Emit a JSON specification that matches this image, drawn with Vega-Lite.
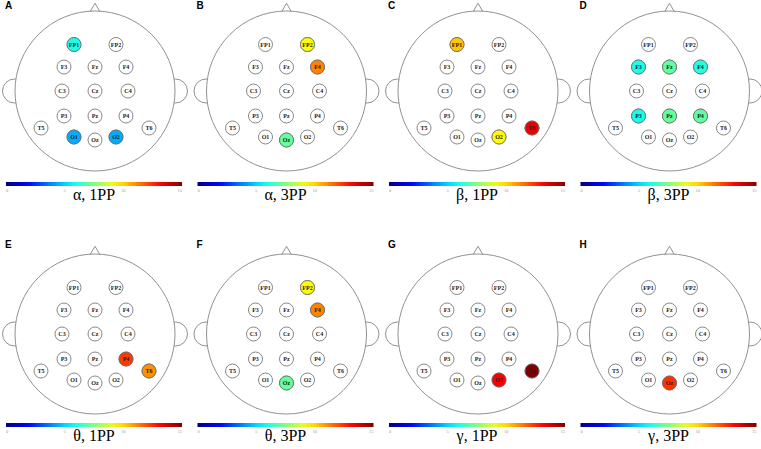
{
"$schema":"https://vega.github.io/schema/vega-lite/v6.json",
"padding":0,
"background":"white",
"bounds":"flush",
"columns":4,
"spacing":{"row":61,"column":6.5},
"datasets":{
"pos":[
{"el":"FP1","x":-21,"y":46.5},{"el":"FP2","x":21,"y":46.5},
{"el":"F3","x":-31,"y":24},{"el":"Fz","x":0,"y":24},{"el":"F4","x":31,"y":24},
{"el":"C3","x":-33,"y":0},{"el":"Cz","x":0,"y":0},{"el":"C4","x":33,"y":0},
{"el":"P3","x":-31,"y":-25},{"el":"Pz","x":0,"y":-25},{"el":"P4","x":31,"y":-25},
{"el":"T5","x":-54,"y":-37},{"el":"T6","x":54,"y":-37},
{"el":"O1","x":-21,"y":-46},{"el":"Oz","x":0,"y":-49},{"el":"O2","x":21,"y":-46}],
"outline":[{"part":"nose","x":0,"y":83},{"part":"ear","x":-80.5,"y":0},{"part":"ear","x":80.5,"y":0},{"part":"head","x":0,"y":0}],
"vals":[
{"panel":"A","el":"FP1","v":6.0},{"panel":"A","el":"O1","v":4.4},{"panel":"A","el":"O2","v":4.4},
{"panel":"B","el":"FP2","v":9.3},{"panel":"B","el":"F4","v":11.2},{"panel":"B","el":"Oz","v":7.1},
{"panel":"C","el":"FP1","v":10.2},{"panel":"C","el":"O2","v":9.4},{"panel":"C","el":"T6","v":13.4},
{"panel":"D","el":"F3","v":6.0},{"panel":"D","el":"Fz","v":7.0},{"panel":"D","el":"F4","v":6.1},{"panel":"D","el":"P3","v":5.9},{"panel":"D","el":"Pz","v":7.1},{"panel":"D","el":"P4","v":7.0},
{"panel":"E","el":"P4","v":12.3},{"panel":"E","el":"T6","v":11.0},
{"panel":"F","el":"FP2","v":9.3},{"panel":"F","el":"F4","v":11.2},{"panel":"F","el":"Oz","v":7.1},
{"panel":"G","el":"O2","v":13.2},{"panel":"G","el":"T6","v":15.0},
{"panel":"H","el":"Oz","v":12.4}]
},
"config":{
"view":{"stroke":null},
"title":{"anchor":"start","frame":"group","fontSize":10,"font":"Liberation Sans","fontWeight":"bold","color":"black"},
"legend":{"orient":"none","direction":"horizontal","gradientLength":176,"gradientThickness":4,"gradientStrokeWidth":0,"titleOrient":"bottom","titleAnchor":"middle","titleFont":"Liberation Serif","titleFontSize":16,"titleFontWeight":"normal","titleColor":"black","titlePadding":-6,"labelFont":"Liberation Serif","labelFontSize":4.5,"labelColor":"#999999","labelOffset":1,"padding":0}
},
"resolve":{"scale":{"fill":"independent","x":"independent","y":"independent"},"legend":{"fill":"independent"}},
"concat":[
{"title":{"text":"A","offset":-9.5,"dx":3},"width":185,"height":182,
"encoding":{"x":{"field":"x","type":"quantitative","scale":{"domain":[-93,92],"nice":false,"zero":false},"axis":null},"y":{"field":"y","type":"quantitative","scale":{"domain":[-92,90],"nice":false,"zero":false},"axis":null}},
"layer":[
{"data":{"name":"outline"},"transform":[{"filter":"datum.part==='nose'"}],"mark":{"type":"point","shape":"triangle-up","size":121,"filled":true,"fill":"white","stroke":"#858585","strokeWidth":0.9,"opacity":1}},
{"data":{"name":"outline"},"transform":[{"filter":"datum.part==='ear'"}],"mark":{"type":"point","shape":"circle","size":576,"filled":true,"fill":"white","stroke":"#858585","strokeWidth":0.9,"opacity":1}},
{"data":{"name":"outline"},"transform":[{"filter":"datum.part==='head'"}],"mark":{"type":"point","shape":"circle","size":25600,"filled":true,"fill":"white","stroke":"#858585","strokeWidth":0.9,"opacity":1}},
{"data":{"name":"pos"},"mark":{"type":"point","shape":"circle","size":196,"filled":true,"fill":"white","stroke":"#6a6a6a","strokeWidth":0.8,"opacity":1}},
{"data":{"name":"vals"},"transform":[{"filter":"datum.panel==='A'"},{"lookup":"el","from":{"data":{"name":"pos"},"key":"el","fields":["x","y"]}}],"mark":{"type":"point","shape":"circle","size":196,"filled":true,"stroke":"#6a6a6a","strokeWidth":0.8,"opacity":1},
"encoding":{"fill":{"field":"v","type":"quantitative","scale":{"domain":[0,1.875,5.625,9.375,13.125,15],"range":["#000080","#0000ff","#00ffff","#ffff00","#ff0000","#800000"],"interpolate":"rgb"},"legend":{"title":"α, 1PP","legendX":4,"legendY":181,"values":[0,5,10,15]}}}},
{"data":{"name":"pos"},"mark":{"type":"text","font":"Liberation Serif","fontSize":6,"fontWeight":"bold","color":"#222222"},"encoding":{"text":{"field":"el"}}}
]},
{"title":{"text":"B","offset":-9.5,"dx":3},"width":185,"height":182,
"encoding":{"x":{"field":"x","type":"quantitative","scale":{"domain":[-93,92],"nice":false,"zero":false},"axis":null},"y":{"field":"y","type":"quantitative","scale":{"domain":[-92,90],"nice":false,"zero":false},"axis":null}},
"layer":[
{"data":{"name":"outline"},"transform":[{"filter":"datum.part==='nose'"}],"mark":{"type":"point","shape":"triangle-up","size":121,"filled":true,"fill":"white","stroke":"#858585","strokeWidth":0.9,"opacity":1}},
{"data":{"name":"outline"},"transform":[{"filter":"datum.part==='ear'"}],"mark":{"type":"point","shape":"circle","size":576,"filled":true,"fill":"white","stroke":"#858585","strokeWidth":0.9,"opacity":1}},
{"data":{"name":"outline"},"transform":[{"filter":"datum.part==='head'"}],"mark":{"type":"point","shape":"circle","size":25600,"filled":true,"fill":"white","stroke":"#858585","strokeWidth":0.9,"opacity":1}},
{"data":{"name":"pos"},"mark":{"type":"point","shape":"circle","size":196,"filled":true,"fill":"white","stroke":"#6a6a6a","strokeWidth":0.8,"opacity":1}},
{"data":{"name":"vals"},"transform":[{"filter":"datum.panel==='B'"},{"lookup":"el","from":{"data":{"name":"pos"},"key":"el","fields":["x","y"]}}],"mark":{"type":"point","shape":"circle","size":196,"filled":true,"stroke":"#6a6a6a","strokeWidth":0.8,"opacity":1},
"encoding":{"fill":{"field":"v","type":"quantitative","scale":{"domain":[0,1.875,5.625,9.375,13.125,15],"range":["#000080","#0000ff","#00ffff","#ffff00","#ff0000","#800000"],"interpolate":"rgb"},"legend":{"title":"α, 3PP","legendX":4,"legendY":181,"values":[0,5,10,15]}}}},
{"data":{"name":"pos"},"mark":{"type":"text","font":"Liberation Serif","fontSize":6,"fontWeight":"bold","color":"#222222"},"encoding":{"text":{"field":"el"}}}
]},
{"title":{"text":"C","offset":-9.5,"dx":3},"width":185,"height":182,
"encoding":{"x":{"field":"x","type":"quantitative","scale":{"domain":[-93,92],"nice":false,"zero":false},"axis":null},"y":{"field":"y","type":"quantitative","scale":{"domain":[-92,90],"nice":false,"zero":false},"axis":null}},
"layer":[
{"data":{"name":"outline"},"transform":[{"filter":"datum.part==='nose'"}],"mark":{"type":"point","shape":"triangle-up","size":121,"filled":true,"fill":"white","stroke":"#858585","strokeWidth":0.9,"opacity":1}},
{"data":{"name":"outline"},"transform":[{"filter":"datum.part==='ear'"}],"mark":{"type":"point","shape":"circle","size":576,"filled":true,"fill":"white","stroke":"#858585","strokeWidth":0.9,"opacity":1}},
{"data":{"name":"outline"},"transform":[{"filter":"datum.part==='head'"}],"mark":{"type":"point","shape":"circle","size":25600,"filled":true,"fill":"white","stroke":"#858585","strokeWidth":0.9,"opacity":1}},
{"data":{"name":"pos"},"mark":{"type":"point","shape":"circle","size":196,"filled":true,"fill":"white","stroke":"#6a6a6a","strokeWidth":0.8,"opacity":1}},
{"data":{"name":"vals"},"transform":[{"filter":"datum.panel==='C'"},{"lookup":"el","from":{"data":{"name":"pos"},"key":"el","fields":["x","y"]}}],"mark":{"type":"point","shape":"circle","size":196,"filled":true,"stroke":"#6a6a6a","strokeWidth":0.8,"opacity":1},
"encoding":{"fill":{"field":"v","type":"quantitative","scale":{"domain":[0,1.875,5.625,9.375,13.125,15],"range":["#000080","#0000ff","#00ffff","#ffff00","#ff0000","#800000"],"interpolate":"rgb"},"legend":{"title":"β, 1PP","legendX":4,"legendY":181,"values":[0,5,10,15]}}}},
{"data":{"name":"pos"},"mark":{"type":"text","font":"Liberation Serif","fontSize":6,"fontWeight":"bold","color":"#222222"},"encoding":{"text":{"field":"el"}}}
]},
{"title":{"text":"D","offset":-9.5,"dx":3},"width":185,"height":182,
"encoding":{"x":{"field":"x","type":"quantitative","scale":{"domain":[-93,92],"nice":false,"zero":false},"axis":null},"y":{"field":"y","type":"quantitative","scale":{"domain":[-92,90],"nice":false,"zero":false},"axis":null}},
"layer":[
{"data":{"name":"outline"},"transform":[{"filter":"datum.part==='nose'"}],"mark":{"type":"point","shape":"triangle-up","size":121,"filled":true,"fill":"white","stroke":"#858585","strokeWidth":0.9,"opacity":1}},
{"data":{"name":"outline"},"transform":[{"filter":"datum.part==='ear'"}],"mark":{"type":"point","shape":"circle","size":576,"filled":true,"fill":"white","stroke":"#858585","strokeWidth":0.9,"opacity":1}},
{"data":{"name":"outline"},"transform":[{"filter":"datum.part==='head'"}],"mark":{"type":"point","shape":"circle","size":25600,"filled":true,"fill":"white","stroke":"#858585","strokeWidth":0.9,"opacity":1}},
{"data":{"name":"pos"},"mark":{"type":"point","shape":"circle","size":196,"filled":true,"fill":"white","stroke":"#6a6a6a","strokeWidth":0.8,"opacity":1}},
{"data":{"name":"vals"},"transform":[{"filter":"datum.panel==='D'"},{"lookup":"el","from":{"data":{"name":"pos"},"key":"el","fields":["x","y"]}}],"mark":{"type":"point","shape":"circle","size":196,"filled":true,"stroke":"#6a6a6a","strokeWidth":0.8,"opacity":1},
"encoding":{"fill":{"field":"v","type":"quantitative","scale":{"domain":[0,1.875,5.625,9.375,13.125,15],"range":["#000080","#0000ff","#00ffff","#ffff00","#ff0000","#800000"],"interpolate":"rgb"},"legend":{"title":"β, 3PP","legendX":4,"legendY":181,"values":[0,5,10,15]}}}},
{"data":{"name":"pos"},"mark":{"type":"text","font":"Liberation Serif","fontSize":6,"fontWeight":"bold","color":"#222222"},"encoding":{"text":{"field":"el"}}}
]},
{"title":{"text":"E","offset":-5.5,"dx":3},"width":185,"height":182,
"encoding":{"x":{"field":"x","type":"quantitative","scale":{"domain":[-93,92],"nice":false,"zero":false},"axis":null},"y":{"field":"y","type":"quantitative","scale":{"domain":[-92,90],"nice":false,"zero":false},"axis":null}},
"layer":[
{"data":{"name":"outline"},"transform":[{"filter":"datum.part==='nose'"}],"mark":{"type":"point","shape":"triangle-up","size":121,"filled":true,"fill":"white","stroke":"#858585","strokeWidth":0.9,"opacity":1}},
{"data":{"name":"outline"},"transform":[{"filter":"datum.part==='ear'"}],"mark":{"type":"point","shape":"circle","size":576,"filled":true,"fill":"white","stroke":"#858585","strokeWidth":0.9,"opacity":1}},
{"data":{"name":"outline"},"transform":[{"filter":"datum.part==='head'"}],"mark":{"type":"point","shape":"circle","size":25600,"filled":true,"fill":"white","stroke":"#858585","strokeWidth":0.9,"opacity":1}},
{"data":{"name":"pos"},"mark":{"type":"point","shape":"circle","size":196,"filled":true,"fill":"white","stroke":"#6a6a6a","strokeWidth":0.8,"opacity":1}},
{"data":{"name":"vals"},"transform":[{"filter":"datum.panel==='E'"},{"lookup":"el","from":{"data":{"name":"pos"},"key":"el","fields":["x","y"]}}],"mark":{"type":"point","shape":"circle","size":196,"filled":true,"stroke":"#6a6a6a","strokeWidth":0.8,"opacity":1},
"encoding":{"fill":{"field":"v","type":"quantitative","scale":{"domain":[0,1.875,5.625,9.375,13.125,15],"range":["#000080","#0000ff","#00ffff","#ffff00","#ff0000","#800000"],"interpolate":"rgb"},"legend":{"title":"θ, 1PP","legendX":4,"legendY":179,"values":[0,5,10,15]}}}},
{"data":{"name":"pos"},"mark":{"type":"text","font":"Liberation Serif","fontSize":6,"fontWeight":"bold","color":"#222222"},"encoding":{"text":{"field":"el"}}}
]},
{"title":{"text":"F","offset":-5.5,"dx":3},"width":185,"height":182,
"encoding":{"x":{"field":"x","type":"quantitative","scale":{"domain":[-93,92],"nice":false,"zero":false},"axis":null},"y":{"field":"y","type":"quantitative","scale":{"domain":[-92,90],"nice":false,"zero":false},"axis":null}},
"layer":[
{"data":{"name":"outline"},"transform":[{"filter":"datum.part==='nose'"}],"mark":{"type":"point","shape":"triangle-up","size":121,"filled":true,"fill":"white","stroke":"#858585","strokeWidth":0.9,"opacity":1}},
{"data":{"name":"outline"},"transform":[{"filter":"datum.part==='ear'"}],"mark":{"type":"point","shape":"circle","size":576,"filled":true,"fill":"white","stroke":"#858585","strokeWidth":0.9,"opacity":1}},
{"data":{"name":"outline"},"transform":[{"filter":"datum.part==='head'"}],"mark":{"type":"point","shape":"circle","size":25600,"filled":true,"fill":"white","stroke":"#858585","strokeWidth":0.9,"opacity":1}},
{"data":{"name":"pos"},"mark":{"type":"point","shape":"circle","size":196,"filled":true,"fill":"white","stroke":"#6a6a6a","strokeWidth":0.8,"opacity":1}},
{"data":{"name":"vals"},"transform":[{"filter":"datum.panel==='F'"},{"lookup":"el","from":{"data":{"name":"pos"},"key":"el","fields":["x","y"]}}],"mark":{"type":"point","shape":"circle","size":196,"filled":true,"stroke":"#6a6a6a","strokeWidth":0.8,"opacity":1},
"encoding":{"fill":{"field":"v","type":"quantitative","scale":{"domain":[0,1.875,5.625,9.375,13.125,15],"range":["#000080","#0000ff","#00ffff","#ffff00","#ff0000","#800000"],"interpolate":"rgb"},"legend":{"title":"θ, 3PP","legendX":4,"legendY":179,"values":[0,5,10,15]}}}},
{"data":{"name":"pos"},"mark":{"type":"text","font":"Liberation Serif","fontSize":6,"fontWeight":"bold","color":"#222222"},"encoding":{"text":{"field":"el"}}}
]},
{"title":{"text":"G","offset":-5.5,"dx":3},"width":185,"height":182,
"encoding":{"x":{"field":"x","type":"quantitative","scale":{"domain":[-93,92],"nice":false,"zero":false},"axis":null},"y":{"field":"y","type":"quantitative","scale":{"domain":[-92,90],"nice":false,"zero":false},"axis":null}},
"layer":[
{"data":{"name":"outline"},"transform":[{"filter":"datum.part==='nose'"}],"mark":{"type":"point","shape":"triangle-up","size":121,"filled":true,"fill":"white","stroke":"#858585","strokeWidth":0.9,"opacity":1}},
{"data":{"name":"outline"},"transform":[{"filter":"datum.part==='ear'"}],"mark":{"type":"point","shape":"circle","size":576,"filled":true,"fill":"white","stroke":"#858585","strokeWidth":0.9,"opacity":1}},
{"data":{"name":"outline"},"transform":[{"filter":"datum.part==='head'"}],"mark":{"type":"point","shape":"circle","size":25600,"filled":true,"fill":"white","stroke":"#858585","strokeWidth":0.9,"opacity":1}},
{"data":{"name":"pos"},"mark":{"type":"point","shape":"circle","size":196,"filled":true,"fill":"white","stroke":"#6a6a6a","strokeWidth":0.8,"opacity":1}},
{"data":{"name":"vals"},"transform":[{"filter":"datum.panel==='G'"},{"lookup":"el","from":{"data":{"name":"pos"},"key":"el","fields":["x","y"]}}],"mark":{"type":"point","shape":"circle","size":196,"filled":true,"stroke":"#6a6a6a","strokeWidth":0.8,"opacity":1},
"encoding":{"fill":{"field":"v","type":"quantitative","scale":{"domain":[0,1.875,5.625,9.375,13.125,15],"range":["#000080","#0000ff","#00ffff","#ffff00","#ff0000","#800000"],"interpolate":"rgb"},"legend":{"title":"γ, 1PP","legendX":4,"legendY":179,"values":[0,5,10,15]}}}},
{"data":{"name":"pos"},"mark":{"type":"text","font":"Liberation Serif","fontSize":6,"fontWeight":"bold","color":"#222222"},"encoding":{"text":{"field":"el"}}}
]},
{"title":{"text":"H","offset":-5.5,"dx":3},"width":185,"height":182,
"encoding":{"x":{"field":"x","type":"quantitative","scale":{"domain":[-93,92],"nice":false,"zero":false},"axis":null},"y":{"field":"y","type":"quantitative","scale":{"domain":[-92,90],"nice":false,"zero":false},"axis":null}},
"layer":[
{"data":{"name":"outline"},"transform":[{"filter":"datum.part==='nose'"}],"mark":{"type":"point","shape":"triangle-up","size":121,"filled":true,"fill":"white","stroke":"#858585","strokeWidth":0.9,"opacity":1}},
{"data":{"name":"outline"},"transform":[{"filter":"datum.part==='ear'"}],"mark":{"type":"point","shape":"circle","size":576,"filled":true,"fill":"white","stroke":"#858585","strokeWidth":0.9,"opacity":1}},
{"data":{"name":"outline"},"transform":[{"filter":"datum.part==='head'"}],"mark":{"type":"point","shape":"circle","size":25600,"filled":true,"fill":"white","stroke":"#858585","strokeWidth":0.9,"opacity":1}},
{"data":{"name":"pos"},"mark":{"type":"point","shape":"circle","size":196,"filled":true,"fill":"white","stroke":"#6a6a6a","strokeWidth":0.8,"opacity":1}},
{"data":{"name":"vals"},"transform":[{"filter":"datum.panel==='H'"},{"lookup":"el","from":{"data":{"name":"pos"},"key":"el","fields":["x","y"]}}],"mark":{"type":"point","shape":"circle","size":196,"filled":true,"stroke":"#6a6a6a","strokeWidth":0.8,"opacity":1},
"encoding":{"fill":{"field":"v","type":"quantitative","scale":{"domain":[0,1.875,5.625,9.375,13.125,15],"range":["#000080","#0000ff","#00ffff","#ffff00","#ff0000","#800000"],"interpolate":"rgb"},"legend":{"title":"γ, 3PP","legendX":4,"legendY":179,"values":[0,5,10,15]}}}},
{"data":{"name":"pos"},"mark":{"type":"text","font":"Liberation Serif","fontSize":6,"fontWeight":"bold","color":"#222222"},"encoding":{"text":{"field":"el"}}}
]}
]
}
